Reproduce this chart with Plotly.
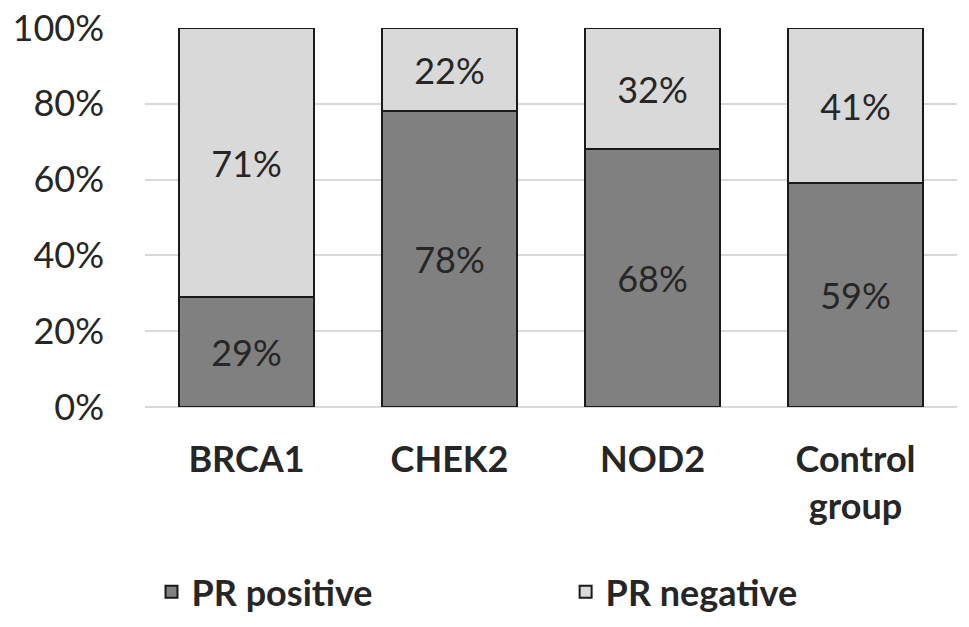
import plotly.graph_objects as go

categories = ["BRCA1", "CHEK2", "NOD2", "Control<br>group"]
pr_positive = [29, 78, 68, 59]
pr_negative = [71, 22, 32, 41]
y_ticks = [0, 20, 40, 60, 80, 100]
y_tick_labels = [f"{v}%" for v in y_ticks]

FONT = "Lato"
TXT = "#262626"

fig = go.Figure()
fig.add_trace(go.Bar(
    name="PR positive", x=categories, y=pr_positive, legend="legend",
    marker=dict(color="#808080", line=dict(color="#1a1a1a", width=2)),
    text=[f"{v}%" for v in pr_positive], textposition="inside",
    insidetextanchor="middle", textangle=0,
    textfont=dict(family=FONT, size=36, color=TXT),
))
fig.add_trace(go.Bar(
    name="PR negative", x=categories, y=pr_negative, legend="legend2",
    marker=dict(color="#d9d9d9", line=dict(color="#1a1a1a", width=2)),
    text=[f"{v}%" for v in pr_negative], textposition="inside",
    insidetextanchor="middle", textangle=0,
    textfont=dict(family=FONT, size=36, color=TXT),
))

legend_font = dict(family=FONT, size=36, color=TXT, weight="bold")
fig.update_layout(
    barmode="stack",
    bargap=0.335,
    width=969, height=627,
    margin=dict(l=145, r=12, t=28, b=220, autoexpand=False),
    paper_bgcolor="white", plot_bgcolor="white",
    font=dict(family=FONT, size=36, color=TXT),
    legend=dict(orientation="h", x=0.008, y=-0.488, xanchor="left",
                yanchor="middle", font=legend_font),
    legend2=dict(orientation="h", x=0.518, y=-0.488, xanchor="left",
                 yanchor="middle", font=legend_font),
    showlegend=True,
)
fig.update_xaxes(
    showgrid=False, showline=False, ticks="",
    tickfont=dict(family=FONT, size=36, color=TXT, weight="bold"),
    ticklabelstandoff=28,
)
fig.update_yaxes(
    range=[0, 100], tickmode="array", tickvals=y_ticks, ticktext=y_tick_labels,
    showgrid=True, gridcolor="#d9d9d9", gridwidth=2,
    zeroline=True, zerolinecolor="#d9d9d9", zerolinewidth=2,
    showline=False, ticks="", ticklabeloverflow="allow",
    tickfont=dict(family=FONT, size=36, color=TXT),
    ticklabelstandoff=40,
)
fig.update_traces(constraintext="none", cliponaxis=False)

fig.write_html("out.html", config={"displayModeBar": False},
               post_script="document.body.style.margin='0';")
